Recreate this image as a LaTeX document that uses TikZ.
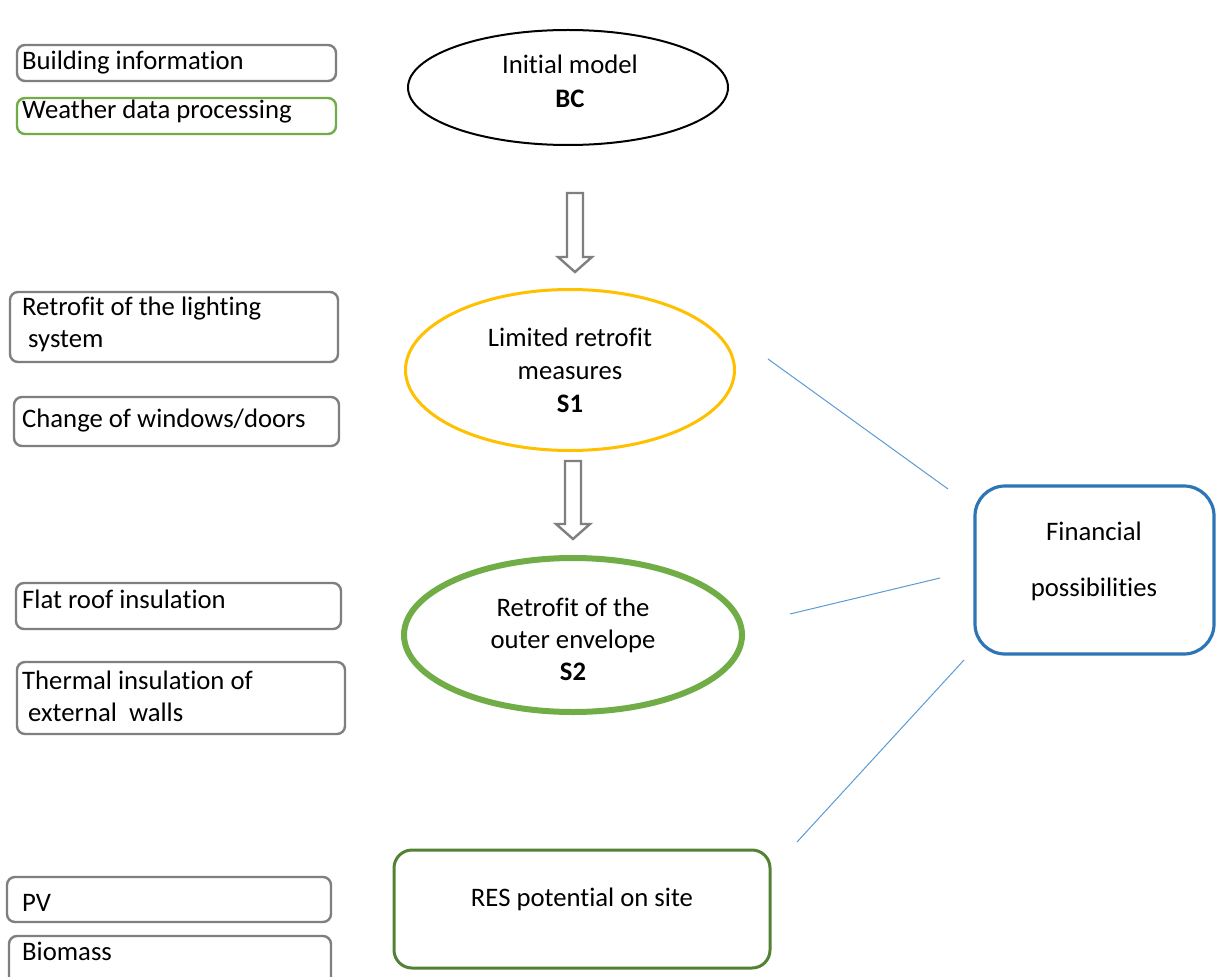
\documentclass[tikz,border=0pt]{standalone}
\usepackage{fontspec}
\setmainfont[RawFeature={-liga;-clig;-dlig}]{Carlito}
\usetikzlibrary{shapes.geometric,calc}
\definecolor{gbord}{HTML}{7F7F7F}
\definecolor{lgreen}{HTML}{70AD47}
\definecolor{dgreen}{HTML}{548235}
\definecolor{yell}{HTML}{FFC000}
\definecolor{fblue}{HTML}{2E75B6}
\definecolor{lblue}{HTML}{5B9BD5}
\tikzset{
  sbox/.style={draw=gbord, line width=2.4pt, rounded corners=8pt, inner sep=0pt},
  txt/.style={anchor=base west, inner sep=0pt, font=\fontsize{26.7}{32}\selectfont},
  ctxt/.style={anchor=base, inner sep=0pt, font=\fontsize{26.7}{32}\selectfont},
  oval/.style={ellipse, inner sep=0pt},
  blockarrow/.style={draw=gbord, line width=2.4pt, fill=white, line join=miter},
  link/.style={draw=lblue, line width=1pt},
}
\begin{document}
\begin{tikzpicture}[x=1pt,y=-1pt]
\clip (0,0) rectangle (1222,976);
\fill[white] (0,0) rectangle (1222,976);

% left boxes
\node[sbox, minimum width=319, minimum height=36] (bi) at (176.5,63) {};
\node[txt] (tbi) at (22,70) {Building information};
\node[sbox, draw=lgreen, minimum width=319, minimum height=36] (wd) at (176.5,116) {};
\node[txt] (twd) at (22,119) {Weather data processing};

\node[sbox, minimum width=328, minimum height=70] (li) at (174,327) {};
\node[txt] (tli1) at (22,315) {Retrofit of the lighting};
\node[txt] (tli2) at (22,347) {\ system};
\node[sbox, minimum width=325, minimum height=49] (cw) at (176.5,421.5) {};
\node[txt] (tcw) at (22,427) {Change of windows/doors};

\node[sbox, minimum width=325, minimum height=46] (fr) at (178.5,606) {};
\node[txt] (tfr) at (22,608) {Flat roof insulation};
\node[sbox, minimum width=328, minimum height=72] (th) at (181,698) {};
\node[txt] (tth1) at (22,689) {Thermal insulation of};
\node[txt] (tth2) at (22,721) {\ external\ \ walls};

\node[sbox, minimum width=324, minimum height=45] (pv) at (169,899.5) {};
\node[txt] (tpv) at (22,911) {PV};
\node[sbox, minimum width=322, minimum height=56] (bm) at (170,964) {};
\node[txt] (tbm) at (22,960) {Biomass};

% ellipses
\node[oval, draw=black, line width=2pt, minimum width=320, minimum height=115] (bc) at (568,87.5) {};
\node[ctxt] at (570,74) {Initial model};
\node[ctxt] at (570,108) {\bfseries BC};

\node[oval, draw=yell, line width=3pt, minimum width=329, minimum height=161] (s1) at (570,370) {};
\node[ctxt] at (570,346) {Limited retrofit};
\node[ctxt] at (570,379) {measures};
\node[ctxt] at (570,412) {\bfseries S1};

\node[oval, draw=lgreen, line width=6pt, minimum width=338, minimum height=154] (s2) at (573,635) {};
\node[ctxt] at (573,616) {Retrofit of the};
\node[ctxt] at (573,648) {outer envelope};
\node[ctxt] at (573,680) {\bfseries S2};

% RES and financial
\node[draw=dgreen, line width=3pt, rounded corners=18pt, minimum width=376, minimum height=118, inner sep=0pt] (res) at (582,909) {};
\node[ctxt] at (582,906) {RES potential on site};
\node[draw=fblue, line width=3.2pt, rounded corners=30pt, minimum width=239, minimum height=168, inner sep=0pt] (fin) at (1094.5,570) {};
\node[ctxt] at (1094,540.5) {Financial};
\node[ctxt] at (1094,596.5) {possibilities};

% block arrows
\coordinate (a1) at (575,193);
\draw[blockarrow] ($(a1)+(-8,0)$) -- ($(a1)+(8,0)$) -- ($(a1)+(8,64)$) -- ($(a1)+(17,64)$) -- ($(a1)+(0,79)$) -- ($(a1)+(-17,64)$) -- ($(a1)+(-8,64)$) -- cycle;
\coordinate (a2) at (573,461);
\draw[blockarrow] ($(a2)+(-8,0)$) -- ($(a2)+(8,0)$) -- ($(a2)+(8,63)$) -- ($(a2)+(17,63)$) -- ($(a2)+(0,78)$) -- ($(a2)+(-17,63)$) -- ($(a2)+(-8,63)$) -- cycle;

% links
\coordinate (l1a) at (768,359);
\coordinate (l1b) at (948,489);
\coordinate (l2a) at (790,614);
\coordinate (l2b) at (940,578);
\coordinate (l3a) at (797,842);
\coordinate (l3b) at (964,660);
\draw[link] (l1a) -- (l1b);
\draw[link] (l2a) -- (l2b);
\draw[link] (l3a) -- (l3b);
\end{tikzpicture}
\end{document}
